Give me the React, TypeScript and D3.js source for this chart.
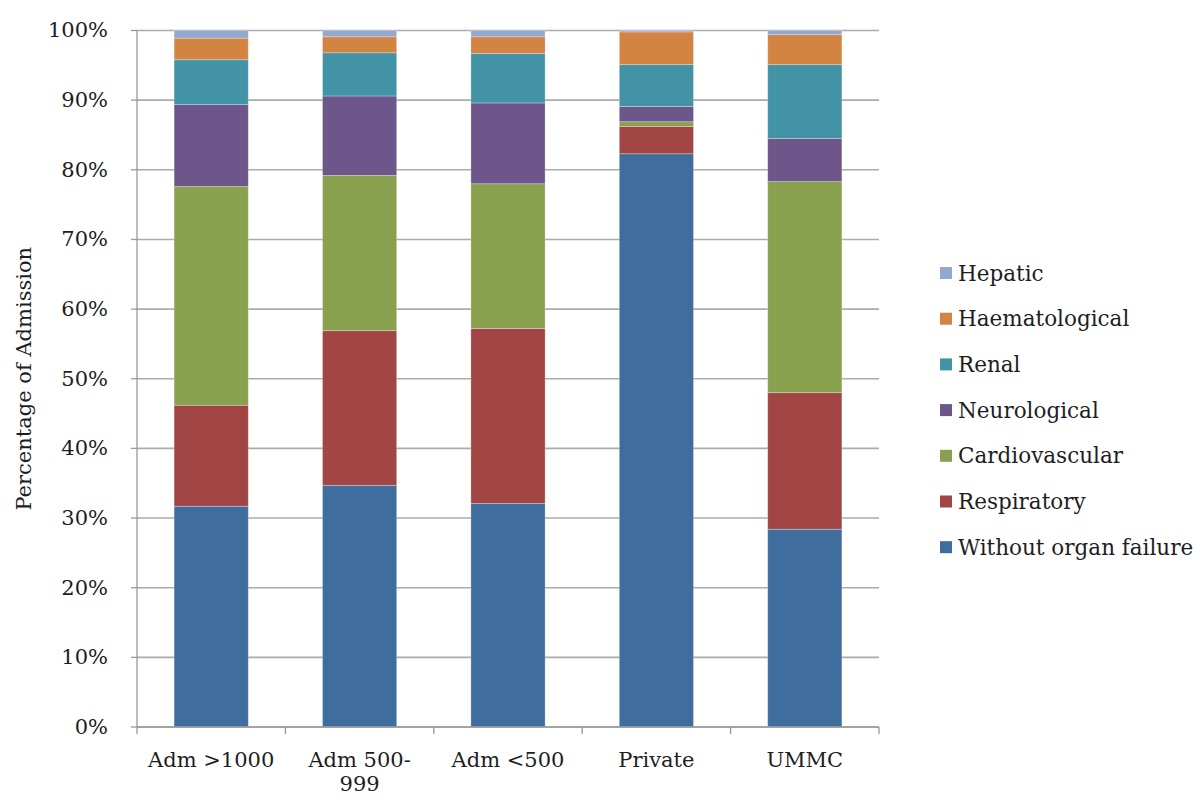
import React from "react";
import * as d3 from "d3";

const categories = ["Adm >1000", "Adm 500-999", "Adm <500", "Private", "UMMC"];
const categoryLines = [["Adm >1000"], ["Adm 500-", "999"], ["Adm <500"], ["Private"], ["UMMC"]];
const seriesNames = [
  "Without organ failure",
  "Respiratory",
  "Cardiovascular",
  "Neurological",
  "Renal",
  "Haematological",
  "Hepatic",
];
const withoutOrganFailure = [31.7, 34.7, 32.1, 82.3, 28.4];
const respiratory = [14.5, 22.2, 25.1, 3.9, 19.6];
const cardiovascular = [31.4, 22.3, 20.8, 0.7, 30.3];
const neurological = [11.8, 11.4, 11.6, 2.2, 6.2];
const renal = [6.4, 6.2, 7.1, 6.0, 10.6];
const haematological = [3.1, 2.3, 2.4, 4.7, 4.3];
const hepatic = [1.1, 0.9, 0.9, 0.2, 0.6];
const yTicks = [0, 10, 20, 30, 40, 50, 60, 70, 80, 90, 100];
const colors = ["#3E6D9E", "#A14644", "#89A04F", "#6C568A", "#4293A6", "#D38342", "#93A8CE"];

const seriesValues = [
  withoutOrganFailure,
  respiratory,
  cardiovascular,
  neurological,
  renal,
  haematological,
  hepatic,
];

const FONT = "'DejaVu Serif', serif";

export default function App() {
  const left = 137;
  const right = 879;
  const top = 30.5;
  const bottom = 727;

  const x = d3.scaleBand<string>().domain(categories).range([left, right]).paddingInner(0.5).paddingOuter(0.25);
  const y = d3.scaleLinear().domain([0, 100]).range([bottom, top]);

  const table = categories.map((c, i) => {
    const row: any = { cat: c };
    seriesNames.forEach((s, k) => (row[s] = seriesValues[k][i]));
    return row;
  });
  const stacked = d3.stack().keys(seriesNames)(table);
  const band = (right - left) / categories.length;

  return (
    <svg width={1199} height={796} style={{ position: "absolute", left: 0, top: 0, background: "#fff" }}>
      {yTicks.map((t) => (
        <line key={"g" + t} x1={left} x2={right} y1={y(t)} y2={y(t)} stroke="#ABABAB" strokeWidth={1.6} />
      ))}
      {stacked.map((layer, k) => (
        <g key={layer.key} fill={colors[k]}>
          {layer.map((d, i) => (
            <rect
              key={i}
              x={x(categories[i])}
              width={x.bandwidth()}
              y={y(d[1])}
              height={Math.max(0, y(d[0]) - y(d[1]))}
              stroke="#ffffff"
              strokeOpacity={0.35}
              strokeWidth={0.8}
            />
          ))}
        </g>
      ))}
      <line x1={left} x2={left} y1={top} y2={bottom} stroke="#9A9A9A" strokeWidth={1.3} />
      {yTicks.map((t) => (
        <g key={"yt" + t}>
          <line x1={left - 6} x2={left} y1={y(t)} y2={y(t)} stroke="#9A9A9A" strokeWidth={1.3} />
          <text x={108} y={y(t)} dy="0.33em" textAnchor="end" fontFamily={FONT} fontSize={21} fill="#1e1e1e">
            {t + "%"}
          </text>
        </g>
      ))}
      <line x1={left} x2={right} y1={bottom} y2={bottom} stroke="#9A9A9A" strokeWidth={1.3} />
      {d3.range(categories.length + 1).map((i) => (
        <line key={"xt" + i} x1={left + i * band} x2={left + i * band} y1={bottom} y2={bottom + 7} stroke="#9A9A9A" strokeWidth={1.3} />
      ))}
      {categories.map((c, i) => (
        <text key={c} x={x(c)! + x.bandwidth() / 2} y={767} textAnchor="middle" fontFamily={FONT} fontSize={21} fill="#1e1e1e">
          {categoryLines[i].map((ln, j) => (
            <tspan key={j} x={x(c)! + x.bandwidth() / 2} dy={j === 0 ? 0 : 24}>
              {ln}
            </tspan>
          ))}
        </text>
      ))}
      <text
        transform={`translate(31, ${(top + bottom) / 2}) rotate(-90)`}
        textAnchor="middle"
        fontFamily={FONT}
        fontSize={21}
        fill="#1e1e1e"
      >
        Percentage of Admission
      </text>
      {seriesNames
        .map((s, k) => ({ s, k }))
        .reverse()
        .map((d, j) => (
          <g key={d.s} transform={`translate(940, ${273 + j * 45.7})`}>
            <rect x={0} y={-6} width={12} height={12} fill={colors[d.k]} />
            <text x={18} y={0} dy="0.35em" fontFamily={FONT} fontSize={21.5} fill="#1e1e1e">
              {d.s}
            </text>
          </g>
        ))}
    </svg>
  );
}
